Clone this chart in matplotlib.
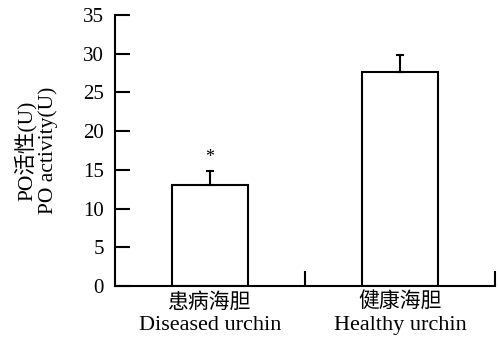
import matplotlib
matplotlib.use("Agg")
import matplotlib.pyplot as plt

plt.rcParams['font.family'] = ['Liberation Serif', 'Noto Sans CJK SC']

categories_cn = ["患病海胆", "健康海胆"]
categories_en = ["Diseased urchin", "Healthy urchin"]
values = [13.0, 27.6]
errors = [1.9, 2.2]
yticks = [0, 5, 10, 15, 20, 25, 30, 35]

fig = plt.figure(figsize=(4.99, 3.40), dpi=100)
ax = fig.add_axes([0.2305, 0.159, 0.762, 0.797])

pos = [0.5, 1.5]
ax.bar(pos, values, width=0.40, color='white', edgecolor='black', linewidth=1.5, zorder=2)
ax.errorbar(pos, values, yerr=[[0, 0], errors], fmt='none', ecolor='black',
            elinewidth=1.5, capsize=3, capthick=1.5, zorder=3)
ax.text(pos[0], values[0] + errors[0] + 1.7, "*", ha='center', va='center', fontsize=13)

ax.set_xlim(0, 2)
ax.set_ylim(0, 35)
ax.spines['top'].set_visible(False)
ax.spines['right'].set_visible(False)
ax.spines['left'].set_linewidth(1.5)
ax.spines['bottom'].set_linewidth(1.5)

ax.set_yticks(yticks)
ax.set_yticklabels([str(v) for v in yticks], fontsize=15)
ax.tick_params(axis='y', direction='in', length=11, width=1.5, pad=8)

ax.set_xticks([1, 2])
ax.set_xticklabels(["", ""])
ax.tick_params(axis='x', which='major', direction='in', length=11, width=1.5)

for x, cn, en in zip(pos, categories_cn, categories_en):
    ax.annotate(cn, xy=(x, 0), xycoords=('data', 'axes fraction'),
                xytext=(0, -12), textcoords='offset points',
                ha='center', va='center', fontsize=15, annotation_clip=False)
    ax.annotate(en, xy=(x, 0), xycoords=('data', 'axes fraction'),
                xytext=(0, -28.5), textcoords='offset points',
                ha='center', va='center', fontsize=16, annotation_clip=False)

ax.set_ylabel("PO活性(U)\nPO activity(U)", fontsize=15.5, linespacing=1.1, labelpad=18)

fig.savefig("out.png", dpi=100)
